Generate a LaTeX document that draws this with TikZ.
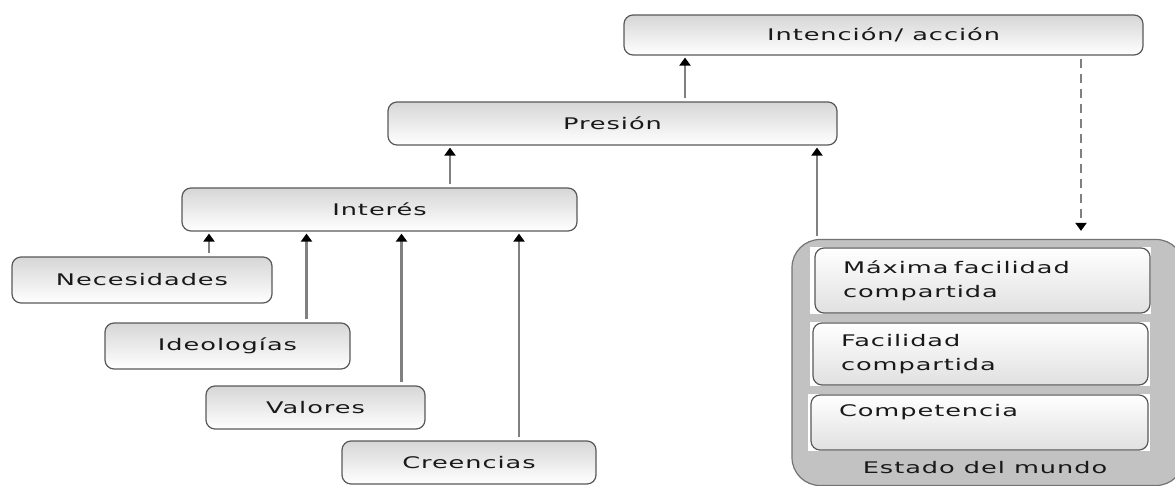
\documentclass[tikz,border=0pt]{standalone}
\usepackage{fontspec}
\setmainfont{DejaVu Sans}[FakeStretch=1.6, LetterSpace=6]
\usetikzlibrary{arrows.meta}
\newcommand{\lblfont}{\fontsize{16pt}{24pt}\selectfont}
\begin{document}
\begin{tikzpicture}[x=1pt,y=-1pt,
  box/.style={draw=black!65, line width=1.2pt, rounded corners=9pt, top color=black!16, bottom color=white, font=\lblfont, text=black!90, inner sep=0pt},
  inbox/.style={box, align=left, inner xsep=28pt, top color=white, bottom color=black!12},
  arr/.style={draw=black!50, line width=2.4pt, -{Triangle[color=black,width=11pt,length=8pt]}, shorten <=3pt, shorten >=2pt},
  darr/.style={arr, dash pattern=on 9pt off 6pt, shorten >=8pt}]
\useasboundingbox (0,0) rectangle (1175,486);
% top chain
\node[box, minimum width=519pt, minimum height=40pt] (int) at (883.5,35) {Intención/ acción};
\node[box, minimum width=449pt, minimum height=43pt] (pres) at (612.5,123.5) {Presión};
\node[box, minimum width=395pt, minimum height=43pt] (inte) at (379.5,209.5) {Interés};
% left staircase
\node[box, minimum width=260pt, minimum height=46pt] (nec) at (142,280) {Necesidades};
\node[box, minimum width=245pt, minimum height=46pt] (ide) at (227.5,346) {Ideologías};
\node[box, minimum width=219pt, minimum height=43pt] (val) at (315.5,407.5) {Valores};
\node[box, minimum width=254pt, minimum height=43pt] (cre) at (469,462.5) {Creencias};
% estado del mundo
\node[draw=black!55, line width=1.2pt, fill=black!24, rounded corners=28pt, minimum width=392pt, minimum height=246pt, inner sep=0pt] (mundo) at (988,362.5) {};
\fill[white] (810,247) rectangle (1151,314);
\fill[white] (810,322) rectangle (1150,386);
\fill[white] (808,394) rectangle (1150,451);
\node[inbox, minimum width=335pt, minimum height=65pt, text width=279pt] (max) at (982.5,280.5) {Máxima facilidad\\compartida};
\node[inbox, minimum width=335pt, minimum height=62pt, text width=279pt] (fac) at (980.5,354) {Facilidad\\compartida};
\node[inbox, minimum width=337pt, minimum height=55pt, text width=281pt] (comp) at (979.5,422.5) {Competencia\\\mbox{}};
\node[font=\lblfont, text=black!90, inner sep=0pt] (mundotxt) at (985,468) {Estado del mundo};
% connectors
\draw[arr] ([xshift=72.5pt]pres.north) -- ([xshift=72.5pt]pres.north |- int.south);
\draw[arr] ([xshift=70.5pt]inte.north) -- ([xshift=70.5pt]inte.north |- pres.south);
\draw[arr] ([xshift=67pt]nec.north) -- ([xshift=67pt]nec.north |- inte.south);
\draw[arr] ([xshift=79pt]ide.north) -- ([xshift=79pt]ide.north |- inte.south);
\draw[arr] ([xshift=86pt]val.north) -- ([xshift=86pt]val.north |- inte.south);
\draw[arr] ([xshift=50pt]cre.north) -- ([xshift=50pt]cre.north |- inte.south);
\draw[arr] ([xshift=-171pt]mundo.north) -- ([xshift=-171pt]mundo.north |- pres.south);
\draw[darr] ([xshift=197.5pt]int.south) -- ([xshift=197.5pt]int.south |- mundo.north);
\end{tikzpicture}
\end{document}
